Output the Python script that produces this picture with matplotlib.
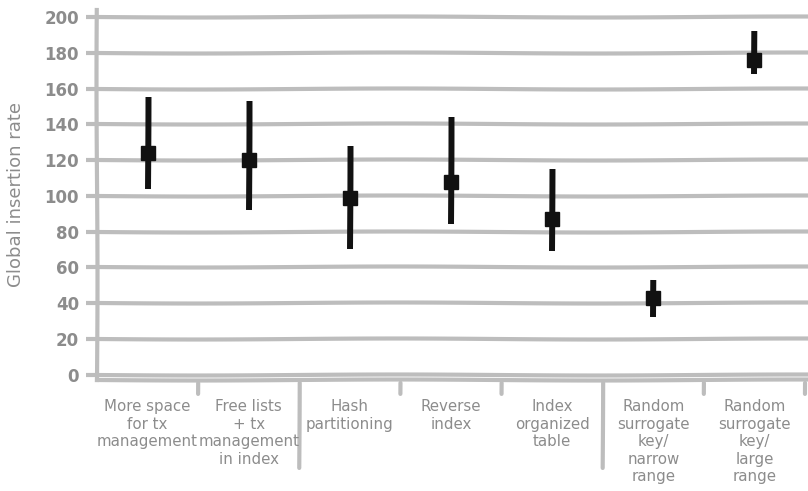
import matplotlib
matplotlib.use("Agg")
import matplotlib.pyplot as plt

# values (Global insertion rate)
categories = [
    "More space\nfor tx\nmanagement",
    "Free lists\n+ tx\nmanagement\nin index",
    "Hash\npartitioning",
    "Reverse\nindex",
    "Index\norganized\ntable",
    "Random\nsurrogate\nkey/\nnarrow\nrange",
    "Random\nsurrogate\nkey/\nlarge\nrange",
]
center = [124, 120, 99, 108, 87, 43, 176]
low = [104, 92, 70, 84, 69, 32, 168]
high = [155, 153, 128, 144, 115, 53, 192]
yticks = [0, 20, 40, 60, 80, 100, 120, 140, 160, 180, 200]
group_edges = [1.5, 4.5]
minor_edges = [0.5, 2.5, 3.5, 5.5, 6.5]

GRID = "#bdbdbd"
TEXT = "#8c8c8c"

plt.rcParams["font.family"] = ["DejaVu Sans"]
plt.rcParams["path.sketch"] = (0.5, 400, 1)

fig = plt.figure(figsize=(8.08, 4.91), dpi=100)
ax = fig.add_axes([0.12, 0.226, 0.88, 0.754])

xs = list(range(len(categories)))
yerr = [[c - l for c, l in zip(center, low)], [h - c for c, h in zip(center, high)]]
ax.errorbar(xs, center, yerr=yerr, fmt="s", color="#111111", ecolor="#111111",
            elinewidth=4.3, markersize=10, capsize=0, zorder=5)

ax.set_xlim(-0.5, 6.53)
ax.set_ylim(-3, 204)
ax.set_yticks(yticks)
ax.yaxis.grid(True, color=GRID, linewidth=3)
ax.set_axisbelow(True)
ax.tick_params(axis="y", colors=GRID, length=8, width=3, labelcolor=TEXT,
               labelsize=12, pad=5)
for lab in ax.get_yticklabels():
    lab.set_fontweight("bold")

ax.set_xticks([])
for e in group_edges:
    ax.annotate("", xy=(e, 0), xycoords=("data", "axes fraction"),
                xytext=(e, -0.245), textcoords=("data", "axes fraction"),
                arrowprops=dict(arrowstyle="-", color=GRID, lw=3))
for e in minor_edges:
    ax.annotate("", xy=(e, 0), xycoords=("data", "axes fraction"),
                xytext=(e, -0.045), textcoords=("data", "axes fraction"),
                arrowprops=dict(arrowstyle="-", color=GRID, lw=3))
for x, c in zip(xs, categories):
    ax.annotate(c, xy=(x, 0), xycoords=("data", "axes fraction"),
                xytext=(0, -14), textcoords="offset points",
                ha="center", va="top", color=TEXT, fontsize=10.8,
                linespacing=1.2)

for side in ["top", "right"]:
    ax.spines[side].set_visible(False)
for side in ["left", "bottom"]:
    ax.spines[side].set_color(GRID)
    ax.spines[side].set_linewidth(3)

ax.set_ylabel("Global insertion rate", color=TEXT, fontsize=13,
              labelpad=14)

fig.savefig("out.png", dpi=100)
